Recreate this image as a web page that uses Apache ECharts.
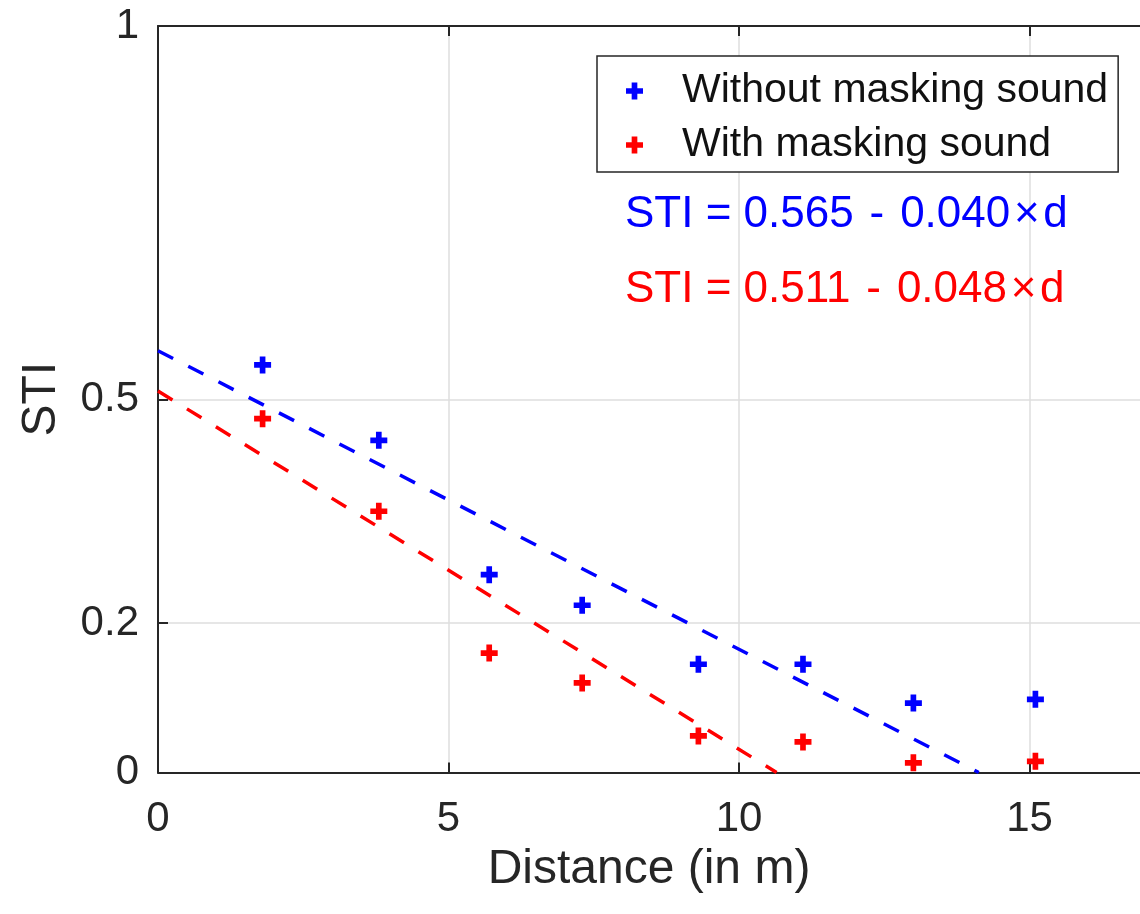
<!DOCTYPE html>
<html>
<head>
<meta charset="utf-8">
<script src="https://cdn.jsdelivr.net/npm/echarts@6.0.0/dist/echarts.min.js"></script>
<style>
  html, body { margin: 0; padding: 0; background: #fff; }
  #chart { width: 1140px; height: 914px; }
</style>
</head>
<body>
<div id="chart"></div>
<script>
// measured distances (m)
const distances = [1.8, 3.8, 5.7, 7.3, 9.3, 11.1, 13.0, 15.1]
const stiWithout = [0.546, 0.445, 0.265, 0.224, 0.145, 0.145, 0.093, 0.098]
const stiWith = [0.474, 0.350, 0.160, 0.120, 0.049, 0.041, 0.013, 0.015]

// fit: STI = a - b*d   [without, with]
const fitIntercept = [0.565, 0.511]
const fitSlope = [0.040, 0.048]

const xTicks = [0, 5, 10, 15]
const yTicks = [0, 0.2, 0.5, 1]

const seriesNames = ['Without masking sound', 'With masking sound']
const colors = ['#0000ff', '#ff0000']

const FONT = '"Liberation Sans", Arial, Helvetica, sans-serif'
const AXIS_COLOR = '#262626'
const PLUS = 'path://M6,0H12V6H18V12H12V18H6V12H0V6H6Z'

const pairs = (ys) => distances.map((d, i) => [d, ys[i]])

// fit line runs from d = 0 until it reaches STI = 0
const fitLine = (i) => [
  [0, fitIntercept[i]],
  [fitIntercept[i] / fitSlope[i], 0],
]

const fitText = (i) =>
  'STI = ' + fitIntercept[i].toFixed(3) + ' \u200a-\u200a ' + fitSlope[i].toFixed(3) + '\u200a\u00d7\u200ad'

const chart = echarts.init(document.getElementById('chart'), null, { renderer: 'canvas' })

const baseX = {
  type: 'value',
  min: 0,
  max: 16.9,
  axisLine: { show: true, lineStyle: { color: AXIS_COLOR, width: 2 } },
  axisTick: { show: true, inside: true, length: 10, customValues: xTicks, lineStyle: { color: AXIS_COLOR, width: 2 } },
}

const option = {
  animation: false,
  backgroundColor: '#fff',
  textStyle: { fontFamily: FONT },
  grid: { left: 158, top: 26, right: -3, bottom: 141.5, containLabel: false },
  xAxis: [
    {
      ...baseX,
      position: 'bottom',
      name: 'Distance (in m)',
      nameLocation: 'middle',
      nameGap: 70,
      nameTextStyle: { fontSize: 48, color: AXIS_COLOR, fontFamily: FONT },
      axisLabel: { customValues: xTicks, fontSize: 42, color: AXIS_COLOR, margin: 26, fontFamily: FONT },
      splitLine: { show: true, lineStyle: { color: '#dedede', width: 1.5 } },
    },
    {
      ...baseX,
      position: 'top',
      axisLabel: { show: false },
      splitLine: { show: false },
    },
  ],
  yAxis: {
    type: 'value',
    min: 0,
    max: 1,
    name: 'STI',
    nameLocation: 'middle',
    nameGap: 92,
    nameTextStyle: { fontSize: 48, color: AXIS_COLOR, fontFamily: FONT },
    axisLine: { show: true, lineStyle: { color: AXIS_COLOR, width: 2 } },
    axisTick: { show: true, inside: true, length: 10, customValues: yTicks, lineStyle: { color: AXIS_COLOR, width: 2 } },
    axisLabel: { customValues: yTicks, fontSize: 42, color: AXIS_COLOR, margin: 19, fontFamily: FONT },
    splitLine: { show: true, lineStyle: { color: '#dedede', width: 1.5 } },
  },
  legend: {
    orient: 'vertical',
    left: 597,
    top: 56,
    data: seriesNames.map((n) => ({ name: n, icon: PLUS })),
    itemWidth: 17,
    itemHeight: 17,
    itemGap: 4,
    padding: [10, 10, 2, 29],
    borderColor: AXIS_COLOR,
    borderWidth: 1.5,
    backgroundColor: '#fff',
    selectedMode: false,
    itemStyle: { opacity: 1 },
    textStyle: {
      fontSize: 41,
      lineHeight: 50,
      color: '#111',
      fontFamily: FONT,
      padding: [0, 0, 0, 34],
    },
  },
  graphic: [0, 1].map((i) => ({
    type: 'text',
    x: 625,
    y: i === 0 ? 215 : 290,
    z: 10,
    style: {
      text: fitText(i),
      fill: colors[i],
      font: '44px ' + FONT,
      verticalAlign: 'middle',
      align: 'left',
    },
  })),
  series: [
    ...[stiWithout, stiWith].map((ys, i) => ({
      name: seriesNames[i],
      type: 'scatter',
      data: pairs(ys),
      symbol: PLUS,
      symbolSize: 17,
      itemStyle: { color: colors[i], opacity: 1 },
      z: 5,
    })),
    ...[0, 1].map((i) => ({
      name: 'fit ' + i,
      type: 'line',
      data: fitLine(i),
      showSymbol: false,
      symbol: 'none',
      lineStyle: { color: colors[i], width: 3.5, type: [17, 17] },
      z: 4,
    })),
  ],
}

chart.setOption(option)
</script>
</body>
</html>
